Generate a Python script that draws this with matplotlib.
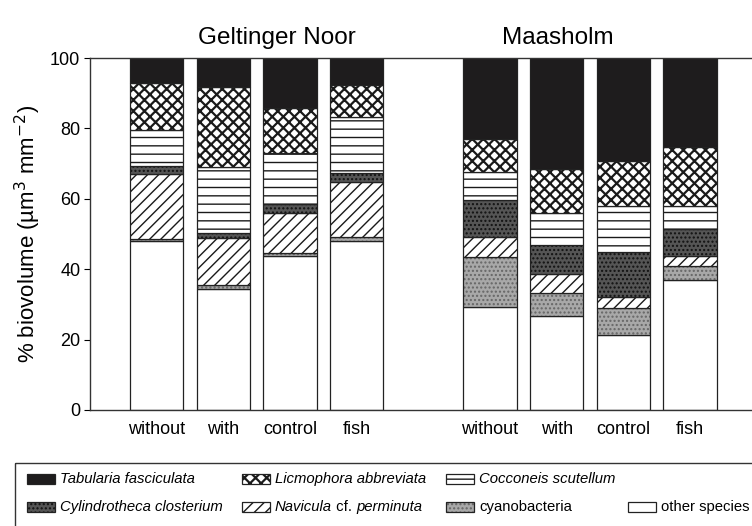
import matplotlib
matplotlib.use("Agg")
import matplotlib.pyplot as plt
from matplotlib.patches import Rectangle

plt.rcParams['font.family'] = ['Liberation Sans', 'DejaVu Sans']
plt.rcParams['hatch.linewidth'] = 1.0

# data: % biovolume per bar, bottom to top
sites = ["Geltinger Noor", "Maasholm"]
treatments = ["without", "with", "control", "fish"]
species = ["other species", "cyanobacteria", "Navicula cf. perminuta",
           "Cylindrotheca closterium", "Cocconeis scutellum",
           "Licmophora abbreviata", "Tabularia fasciculata"]
other = [48.0, 34.3, 43.8, 48.1, 29.2, 26.8, 21.3, 36.9]
cyano = [0.5, 1.2, 0.7, 1.0, 14.4, 6.5, 7.8, 4.1]
navicula = [18.5, 13.3, 11.4, 15.6, 5.5, 5.3, 3.1, 2.8]
cylindro = [2.2, 1.6, 2.6, 2.7, 10.6, 8.3, 12.6, 7.5]
cocconeis = [10.3, 18.5, 14.6, 15.9, 8.0, 9.2, 13.2, 6.7]
licmophora = [13.5, 22.8, 12.6, 9.0, 9.2, 12.4, 12.7, 16.6]
tabularia = [7.0, 8.3, 14.3, 7.7, 23.1, 31.5, 29.3, 25.4]

series = [other, cyano, navicula, cylindro, cocconeis, licmophora, tabularia]

# fill colour, hatch, hatch colour, hatch line width
styles = [
    ("white", None, "black", 1.0),
    ("#a8a8a8", "....", "#666666", 1.0),
    ("white", "///", "#1a1a1a", 1.0),
    ("#555555", "....", "#111111", 1.0),
    ("white", "--", "#1a1a1a", 1.0),
    ("white", "xxx", "#1a1a1a", 1.6),
    ("#1e1c1d", None, "#1e1c1d", 1.0),
]

fig = plt.figure(figsize=(7.52, 5.26), dpi=100)
ax = fig.add_axes([90 / 752, 116 / 526, 662 / 752, 352 / 526])

xpos = [g * 5 + i for g in range(len(sites)) for i in range(len(treatments))]
bottom = [0.0] * len(xpos)
for vals, (fc, hatch, hc, hlw) in zip(series, styles):
    with plt.rc_context({'hatch.linewidth': hlw}):
        ax.bar(xpos, vals, width=0.8, bottom=bottom, color=fc, hatch=hatch,
               edgecolor=hc, linewidth=0)
    ax.bar(xpos, vals, width=0.8, bottom=bottom, fill=False,
           edgecolor="#222222", linewidth=0.9)
    bottom = [b + v for b, v in zip(bottom, vals)]

ax.set_xlim(-1.0, 8.93)
ax.set_ylim(0, 100)
ax.set_yticks([0, 20, 40, 60, 80, 100])
ax.set_xticks(xpos)
ax.set_xticklabels(treatments * len(sites))
ax.tick_params(axis='x', length=0, pad=8, labelsize=13)
ax.tick_params(axis='y', length=4, width=0.8, labelsize=13, pad=3)
ax.spines['right'].set_visible(False)
for s in ['left', 'top', 'bottom']:
    ax.spines[s].set_linewidth(1.0)
    ax.spines[s].set_color("#333333")
ax.set_ylabel("% biovolume (µm$^3$ mm$^{-2}$)", fontsize=16, labelpad=5)

# site titles
fig.text(277 / 752, 1 - 38 / 526, sites[0], ha='center', va='center', fontsize=17.5)
fig.text(558 / 752, 1 - 38 / 526, sites[1], ha='center', va='center', fontsize=17.5)

# legend drawn in pixel coordinates
lax = fig.add_axes([0, 0, 1, 1])
lax.set_xlim(0, 752)
lax.set_ylim(526, 0)
lax.axis('off')
lax.add_patch(Rectangle((15, 463), 800, 100, fill=False, edgecolor="#333333",
                        linewidth=1.0, clip_on=False))

legend_items = [
    (6, 27, 479, [("Tabularia fasciculata", True)]),
    (5, 242, 479, [("Licmophora abbreviata", True)]),
    (4, 446, 479, [("Cocconeis scutellum", True)]),
    (3, 27, 507, [("Cylindrotheca closterium", True)]),
    (2, 242, 507, [("Navicula", True), (" cf. ", False), ("perminuta", True)]),
    (1, 446, 507, [("cyanobacteria", False)]),
    (0, 628, 507, [("other species", False)]),
]
for idx, x0, yc, parts in legend_items:
    fc, hatch, hc, hlw = styles[idx]
    w = 28
    with plt.rc_context({'hatch.linewidth': hlw}):
        lax.add_patch(Rectangle((x0, yc - 5), w, 10, facecolor=fc, hatch=hatch,
                                edgecolor=hc, linewidth=0))
    lax.add_patch(Rectangle((x0, yc - 5), w, 10, fill=False,
                            edgecolor="#222222", linewidth=0.9))
    tx = x0 + w + 5
    for txt, it in parts:
        t = lax.text(tx, yc, txt, ha='left', va='center', fontsize=10.7,
                     style='italic' if it else 'normal')
        fig.canvas.draw()
        tx += t.get_window_extent().width

fig.savefig("out.png", dpi=100)
